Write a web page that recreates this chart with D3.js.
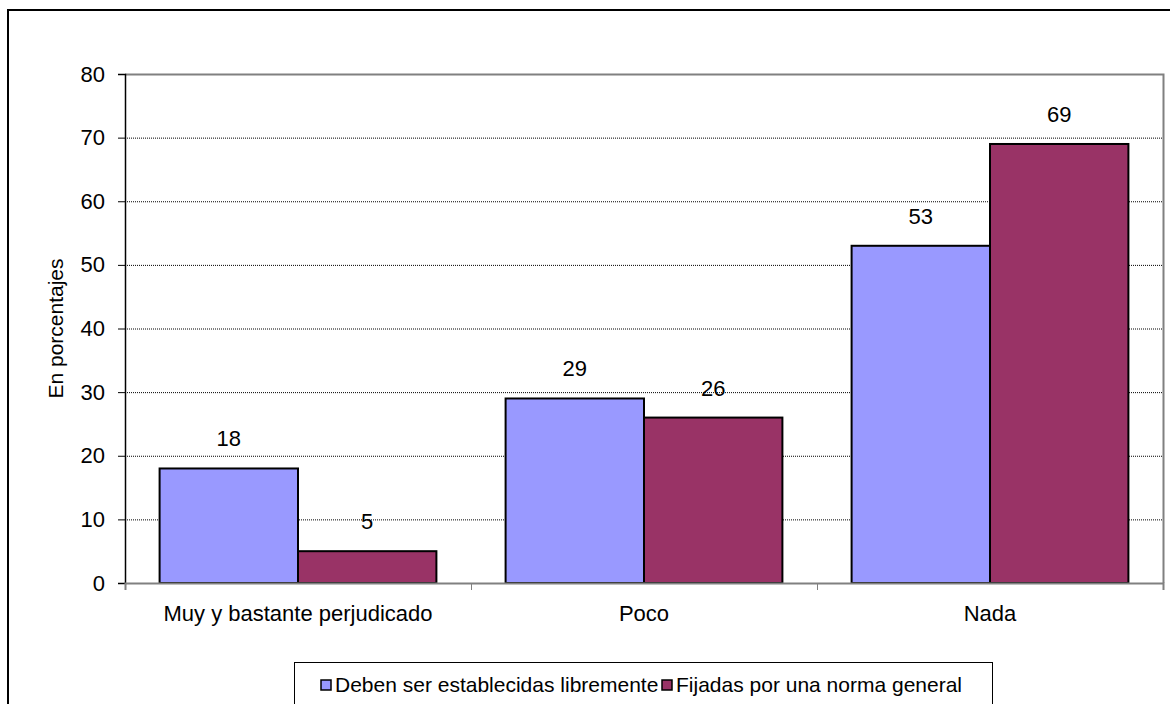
<!DOCTYPE html>
<html>
<head>
<meta charset="utf-8">
<script src="https://cdn.jsdelivr.net/npm/d3@7"></script>
<style>
body { margin: 0; background: #fff; }
svg text { font-family: "Liberation Sans", Arial, sans-serif; fill: #000; }
</style>
</head>
<body>
<div id="app"></div>
<script>
// data
var categories = ["Muy y bastante perjudicado", "Poco", "Nada"];
var seriesNames = ["Deben ser establecidas libremente", "Fijadas por una norma general"];
var libremente = [18, 29, 53];
var norma = [5, 26, 69];
var yTicks = [0, 10, 20, 30, 40, 50, 60, 70, 80];
var colors = ["#9999ff", "#993366"];

var W = 1170, H = 704;
var plot = {left: 125, top: 74, right: 1163, bottom: 583};
var fs = "22px";

var svg = d3.select("#app").append("svg")
    .attr("width", W).attr("height", H);

// outer frame
svg.append("rect")
    .attr("x", 8).attr("y", 10).attr("width", W + 10).attr("height", H + 10)
    .attr("fill", "none").attr("stroke", "#000").attr("stroke-width", 2);

var x0 = d3.scaleBand().domain(categories).range([plot.left, plot.right]);
var x1 = d3.scaleBand().domain([0, 1]).range([0, x0.bandwidth()]).paddingOuter(0.25).paddingInner(0);
var y = d3.scaleLinear().domain([0, 80]).range([plot.bottom, plot.top]);

// gridlines
svg.append("g").selectAll("line").data(yTicks.filter(function(d){ return d > 0 && d < 80; }))
  .enter().append("line")
    .attr("x1", plot.left).attr("x2", plot.right)
    .attr("y1", function(d){ return y(d) + 0.5; }).attr("y2", function(d){ return y(d) + 0.5; })
    .attr("stroke", "#000").attr("stroke-width", 1).attr("stroke-dasharray", "1,1");

// plot area border (top/right gray)
svg.append("path")
    .attr("d", "M" + plot.left + "," + (plot.top + 0.5) + "H" + (plot.right + 0.5) + "V" + plot.bottom)
    .attr("fill", "none").attr("stroke", "#808080").attr("stroke-width", 2);

// bars
var rows = categories.map(function(c, i){ return {cat: c, vals: [libremente[i], norma[i]]}; });
var grp = svg.append("g").selectAll("g").data(rows).enter().append("g")
    .attr("transform", function(d){ return "translate(" + x0(d.cat) + ",0)"; });

grp.selectAll("rect").data(function(d){ return d.vals.map(function(v, k){ return {k: k, v: v}; }); })
  .enter().append("rect")
    .attr("x", function(d){ return x1(d.k); })
    .attr("y", function(d){ return y(d.v); })
    .attr("width", x1.bandwidth())
    .attr("height", function(d){ return y(0) - y(d.v); })
    .attr("fill", function(d){ return colors[d.k]; })
    .attr("stroke", "#000").attr("stroke-width", 2);

grp.selectAll("text").data(function(d){ return d.vals.map(function(v, k){ return {k: k, v: v}; }); })
  .enter().append("text")
    .attr("x", function(d){ return x1(d.k) + x1.bandwidth() / 2; })
    .attr("y", function(d){ return y(d.v) - 22; })
    .attr("text-anchor", "middle")
    .style("font-size", fs)
    .text(function(d){ return d.v; });

// y axis
var yAxis = svg.append("g")
    .attr("transform", "translate(" + plot.left + ",0)")
    .call(d3.axisLeft(y).tickValues(yTicks).tickSize(7).tickPadding(13));
yAxis.select(".domain").attr("stroke", "#000").attr("stroke-width", 1.5);
yAxis.selectAll(".tick line").attr("stroke", "#000");
yAxis.selectAll(".tick text").style("font-size", fs).attr("font-family", null);

// x axis
var xAxis = svg.append("g")
    .attr("transform", "translate(0," + plot.bottom + ")")
    .call(d3.axisBottom(d3.scaleLinear().domain([0, 3]).range([plot.left, plot.right]))
        .tickValues([0, 1, 2, 3]).tickSize(7).tickFormat(""));
xAxis.select(".domain").attr("stroke", "#808080").attr("stroke-width", 2);
xAxis.selectAll(".tick line").attr("stroke", "#808080");

svg.append("g").selectAll("text").data(categories).enter().append("text")
    .attr("x", function(d){ return x0(d) + x0.bandwidth() / 2; })
    .attr("y", plot.bottom + 38)
    .attr("text-anchor", "middle")
    .style("font-size", fs)
    .text(function(d){ return d; });

// y title
svg.append("text")
    .attr("transform", "translate(63," + ((plot.top + plot.bottom) / 2) + ") rotate(-90)")
    .attr("text-anchor", "middle")
    .style("font-size", "21px")
    .text("En porcentajes");

// legend
var leg = svg.append("g").attr("transform", "translate(294,662)");
leg.append("rect").attr("x", 0.5).attr("y", 0.5).attr("width", 698).attr("height", 60)
    .attr("fill", "#fff").attr("stroke", "#000").attr("stroke-width", 1);
var legX = [27, 368];
var items = leg.selectAll("g.item").data(seriesNames).enter().append("g")
    .attr("class", "item")
    .attr("transform", function(d, i){ return "translate(" + legX[i] + ",18)"; });
items.append("rect").attr("width", 10).attr("height", 10)
    .attr("fill", function(d, i){ return colors[i]; })
    .attr("stroke", "#000").attr("stroke-width", 1.5);
items.append("text").attr("x", 14).attr("y", 12)
    .style("font-size", "21px")
    .text(function(d){ return d; });
</script>
</body>
</html>
